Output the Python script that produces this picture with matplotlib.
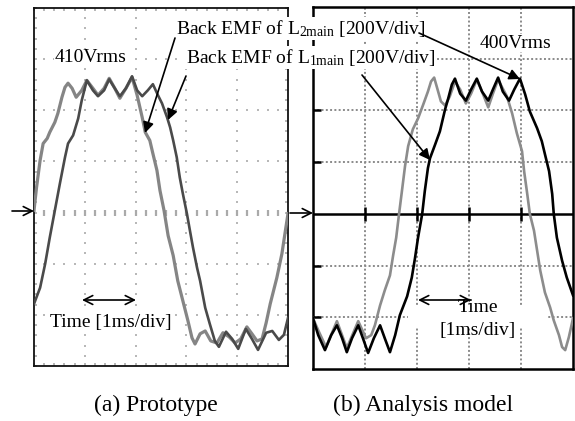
import numpy as np
import matplotlib
matplotlib.use("Agg")
import matplotlib.pyplot as plt
from matplotlib.patches import Rectangle

plt.rcParams['font.family'] = ['Liberation Serif', 'DejaVu Serif']
plt.rcParams['mathtext.fontset'] = 'custom'
plt.rcParams['mathtext.rm'] = 'Liberation Serif'
plt.rcParams['mathtext.it'] = 'Liberation Serif:italic'

# ---------------- data: time [ms], voltage [V] ----------------
# (a) Prototype
proto_lead_t = [0.00, 0.05, 0.12, 0.18, 0.26, 0.31, 0.41, 0.47, 0.55, 0.61, 0.67, 0.75, 0.83, 0.94,
                1.04, 1.16, 1.26, 1.38, 1.48, 1.59, 1.69, 1.81, 1.93, 2.03, 2.13, 2.19, 2.28, 2.34,
                2.42, 2.48, 2.56, 2.64, 2.74, 2.83, 2.93, 3.03, 3.11, 3.17, 3.27, 3.37, 3.48, 3.60,
                3.72, 3.84, 3.96, 4.07, 4.19, 4.29, 4.39, 4.49, 4.57, 4.65, 4.78, 4.88, 4.94, 5.00]
proto_lead_v = [8, 98, 204, 270, 290, 314, 353, 388, 451, 490, 506, 486, 451, 478,
                517, 486, 459, 486, 525, 486, 447, 486, 529, 459, 372, 314, 282, 231,
                165, 86, 8, -90, -168, -267, -345, -423, -490, -514, -474, -463, -502, -510,
                -470, -486, -510, -494, -447, -474, -502, -494, -431, -357, -255, -161, -82, -4]

proto_lag_t = [0.00, 0.12, 0.22, 0.31, 0.41, 0.51, 0.61, 0.67, 0.77, 0.87, 0.94, 1.04, 1.16, 1.26,
               1.38, 1.48, 1.59, 1.69, 1.81, 1.93, 2.03, 2.13, 2.24, 2.34, 2.44, 2.52, 2.62, 2.68,
               2.74, 2.81, 2.87, 2.93, 3.01, 3.07, 3.13, 3.21, 3.27, 3.37, 3.46, 3.56, 3.64, 3.78,
               3.90, 4.02, 4.17, 4.29, 4.41, 4.57, 4.69, 4.82, 4.92, 5.00]
proto_lag_v = [-357, -294, -200, -98, 8, 114, 216, 270, 302, 368, 439, 517, 478, 455,
               478, 521, 486, 455, 486, 533, 478, 455, 478, 502, 459, 427, 372, 333,
               282, 216, 137, 74, -4, -71, -137, -216, -267, -372, -435, -502, -525, -466,
               -494, -533, -455, -494, -537, -470, -463, -498, -478, -412]

# (b) Analysis model
model_lead_t = [0.00, 0.10, 0.25, 0.46, 0.65, 0.87, 1.02, 1.12, 1.19, 1.29, 1.38, 1.48, 1.54, 1.60,
                1.65, 1.71, 1.77, 1.83, 1.92, 2.02, 2.12, 2.21, 2.27, 2.33, 2.38, 2.46, 2.54, 2.63,
                2.73, 2.83, 2.94, 3.04, 3.15, 3.25, 3.37, 3.46, 3.56, 3.63, 3.73, 3.83, 3.92, 4.02,
                4.06, 4.12, 4.17, 4.25, 4.31, 4.37, 4.46, 4.56, 4.63, 4.73, 4.79, 4.85, 4.92, 4.98, 5.00]
model_lead_v = [-404, -450, -515, -415, -519, -415, -481, -469, -431, -354, -296, -238, -162, -92,
                -8, 88, 185, 262, 327, 369, 423, 473, 512, 527, 492, 435, 419, 454,
                512, 481, 427, 465, 519, 473, 412, 465, 519, 492, 454, 388, 312, 242,
                165, 77, 0, -65, -142, -219, -304, -362, -412, -469, -515, -527, -477, -423, -404]

model_lag_t = [0.00, 0.10, 0.23, 0.35, 0.46, 0.56, 0.65, 0.75, 0.87, 0.96, 1.06, 1.17, 1.29, 1.38,
               1.48, 1.58, 1.67, 1.81, 1.90, 1.96, 2.02, 2.10, 2.15, 2.21, 2.25, 2.35, 2.44, 2.54,
               2.60, 2.67, 2.73, 2.83, 2.94, 3.04, 3.15, 3.25, 3.37, 3.46, 3.56, 3.65, 3.77, 3.87,
               3.98, 4.08, 4.17, 4.31, 4.40, 4.46, 4.54, 4.60, 4.63, 4.69, 4.79, 4.88, 5.00]
model_lag_v = [-404, -469, -527, -469, -431, -481, -535, -481, -431, -481, -538, -481, -431, -481,
               -535, -469, -392, -319, -246, -173, -92, 0, 88, 177, 215, 269, 319, 404,
               446, 500, 523, 465, 438, 481, 523, 473, 438, 481, 527, 473, 438, 481,
               523, 462, 396, 331, 281, 231, 165, 77, 0, -92, -181, -246, -315]

captions = ["(a) Prototype", "(b) Analysis model"]
label_l2 = r"Back EMF of $\mathregular{L_{2main}}$ [200V/div]"
label_l1 = r"Back EMF of $\mathregular{L_{1main}}$ [200V/div]"
rms_proto = "410Vrms"
rms_model = "400Vrms"
time_label = "Time [1ms/div]"

W, H = 575, 421
fig = plt.figure(figsize=(W / 100, H / 100), dpi=100)

def fbox(x0, y0, x1, y1):
    return [x0 / W, 1 - y1 / H, (x1 - x0) / W, (y1 - y0) / H]

axL = fig.add_axes(fbox(34, 8, 288, 366))
axR = fig.add_axes(fbox(313, 7, 573, 369))

for ax in (axL, axR):
    ax.set_xlim(0, 5)
    ax.set_ylim(-600, 800)

# ----- left panel: oscilloscope graticule -----
dot_c = '#b8b8b8'
tt = np.arange(0.2, 4.9, 0.2)
for v in [-400, -200, 200, 400, 600]:
    axL.scatter(tt, np.full_like(tt, v), marker='s', s=2.2, color=dot_c, lw=0, zorder=1)
vv = np.arange(-560, 790, 40)
for t in [1, 2, 3, 4]:
    axL.scatter(np.full_like(vv, t, dtype=float), vv, marker='s', s=2.2, color=dot_c, lw=0, zorder=1)
axL.scatter(tt, np.zeros_like(tt), marker='|', s=22, color='#aaaaaa', lw=1.6, zorder=1)
axL.set_xticks(np.arange(0, 5.01, 0.2))
axL.set_yticks(np.arange(-600, 801, 40))
axL.tick_params(direction='in', length=2.5, width=1.2, color='#aaaaaa', top=True, right=True,
                labelbottom=False, labelleft=False)
for s in axL.spines.values():
    s.set_linewidth(1.3)
    s.set_color('#111111')

axL.plot(proto_lead_t, proto_lead_v, color='#858585', lw=2.3, zorder=3, solid_joinstyle='round')
axL.plot(proto_lag_t, proto_lag_v, color='#4a4a4a', lw=1.9, zorder=4, solid_joinstyle='round')

# ----- right panel -----
grid_c = '#8a8a8a'
for t in [1, 2, 3, 4]:
    axR.axvline(t, color=grid_c, lw=1.4, ls=(0, (1, 1.2)), zorder=1)
for v in [-400, -200, 200, 400, 600]:
    axR.axhline(v, color=grid_c, lw=1.4, ls=(0, (1, 1.2)), zorder=1)
axR.add_patch(Rectangle((1.83, -440), 2.69, 80, facecolor='white', edgecolor='none', zorder=1.5))
axR.axhline(0, color='black', lw=1.8, zorder=2)
axR.vlines([1, 2, 3, 4], -28, 28, color='black', lw=1.8, zorder=2)
axR.hlines([-400, -200, 200, 400, 600], 0, 0.15, color='black', lw=1.8, zorder=2)
axR.set_xticks([])
axR.set_yticks([])
for s in axR.spines.values():
    s.set_linewidth(1.8)

axR.plot(model_lead_t, model_lead_v, color='#8c8c8c', lw=1.9, zorder=3, solid_joinstyle='round')
axR.plot(model_lag_t, model_lag_v, color='black', lw=1.9, zorder=4, solid_joinstyle='round')

# ----- overlay for annotations (pixel coordinates) -----
ov = fig.add_axes([0, 0, 1, 1], zorder=5)
ov.set_xlim(0, W)
ov.set_ylim(H, 0)
ov.axis('off')
ov.patch.set_alpha(0)

wb = dict(facecolor='white', edgecolor='none', pad=0.6)
fs = 14
ov.text(176, 34, label_l2, fontsize=fs, ha='left', va='baseline', bbox=wb)
ov.text(186, 63, label_l1, fontsize=fs, ha='left', va='baseline', bbox=wb)
ov.text(91, 58, rms_proto, fontsize=fs, ha='center', va='center', bbox=wb)
ov.text(516, 43, rms_model, fontsize=fs, ha='center', va='center', bbox=wb)
ov.text(111, 322, time_label, fontsize=fs, ha='center', va='center', bbox=wb)
ov.text(478, 307, "Time", fontsize=fs, ha='center', va='center')
ov.text(478, 330, "[1ms/div]", fontsize=fs, ha='center', va='center')

ap = dict(arrowstyle='-|>', color='black', lw=1.2, mutation_scale=16, shrinkA=0, shrinkB=0)
ov.annotate('', xy=(145, 133), xytext=(175, 38), arrowprops=ap)
ov.annotate('', xy=(168, 120), xytext=(186, 76), arrowprops=ap)
ov.annotate('', xy=(520, 79), xytext=(419, 33), arrowprops=ap)
ov.annotate('', xy=(430, 160), xytext=(362, 75), arrowprops=ap)

dp = dict(arrowstyle='<->', color='black', lw=1.2, mutation_scale=16, shrinkA=0, shrinkB=0)
ov.annotate('', xy=(82, 300), xytext=(136, 300), arrowprops=dp)
ov.annotate('', xy=(418, 300), xytext=(471, 300), arrowprops=dp)

zp = dict(arrowstyle='->', color='black', lw=1.2, mutation_scale=16, shrinkA=0, shrinkB=0)
ov.annotate('', xy=(34, 211), xytext=(12, 211), arrowprops=zp)
ov.annotate('', xy=(313, 213), xytext=(290, 213), arrowprops=zp)

ov.text(156, 405, captions[0], fontsize=17, ha='center', va='center')
ov.text(423, 405, captions[1], fontsize=17, ha='center', va='center')

fig.savefig('out.png', dpi=100)
